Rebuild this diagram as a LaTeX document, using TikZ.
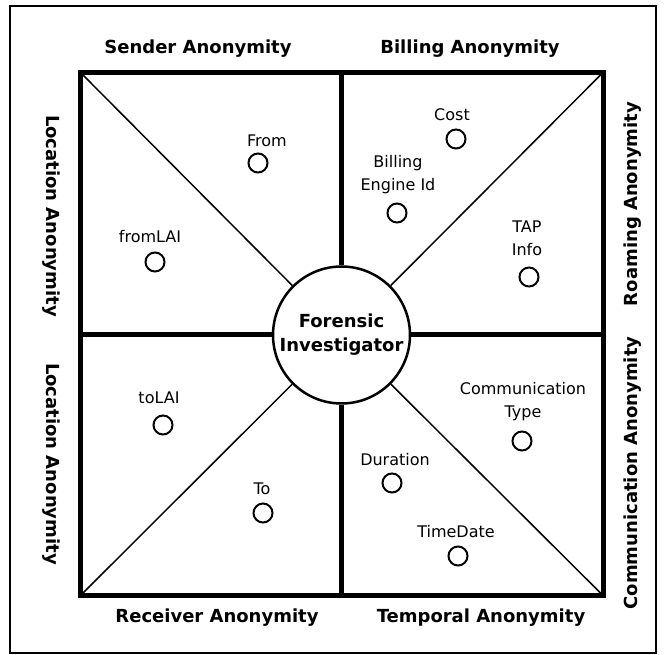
\documentclass[tikz,border=0pt]{standalone}
\usepackage{fontspec}
\setmainfont{DejaVu Sans}

\begin{document}
\begin{tikzpicture}[
        x=1pt, y=-1pt,
        side/.style={font=\fontsize{18}{20}\selectfont\bfseries, inner sep=0pt},
        item/.style={font=\fontsize{16}{23}\selectfont, align=center, inner sep=0pt},
        dot/.style={circle, draw, line width=2pt, minimum size=19pt, inner sep=0pt},
        hub/.style={circle, draw, fill=white, line width=2.5pt, minimum size=137pt,
                    inner sep=0pt, align=center,
                    font=\fontsize{18}{24}\selectfont\bfseries},
        wall/.style={line width=5pt},
        cut/.style={line width=1.5pt},
    ]
    \useasboundingbox (0,0) rectangle (665,655);
    \draw[line width=2pt] (10,6) rectangle (656,653);

    % corners of the square
    \coordinate (tl) at (80.5,72.5);
    \coordinate (tr) at (603,72.5);
    \coordinate (bl) at (80.5,595.5);
    \coordinate (br) at (603,595.5);
    \coordinate (tm) at (341.5,72.5);
    \coordinate (bm) at (341.5,595.5);
    \coordinate (lm) at (80.5,335);
    \coordinate (rm) at (603,335);

    \node[hub] (inv) at (341.5,335) {Forensic\\Investigator};

    \draw[wall, line join=miter] (tl) rectangle (br);
    \draw[wall] (tm) -- (inv.north);
    \draw[wall] (bm) -- (inv.south);
    \draw[wall] (lm) -- (inv.west);
    \draw[wall] (rm) -- (inv.east);
    \draw[cut] (tl) -- (inv);
    \draw[cut] (tr) -- (inv);
    \draw[cut] (bl) -- (inv);
    \draw[cut] (br) -- (inv);

    % outer labels
    \node[side] (sender)   at (198,49)  {Sender Anonymity};
    \node[side] (billing)  at (470,49)  {Billing Anonymity};
    \node[side] (receiver) at (217,618) {Receiver Anonymity};
    \node[side] (temporal) at (481,618) {Temporal Anonymity};
    \node[side, rotate=-90] (loctop) at (51.5,216) {Location Anonymity};
    \node[side, rotate=-90] (locbot) at (51.5,464) {Location Anonymity};
    \node[side, rotate=90] (roaming) at (633,204) {Roaming Anonymity};
    \node[side, rotate=90] (commun)  at (633,473) {Communication Anonymity};

    % fields
    \node[dot] (from) at (258,163) {};
    \node[item] (fromtxt) at (267,141) {From};
    \node[dot] (fromlai) at (155,262) {};
    \node[item] (fromlaitxt) at (150,237) {fromLAI};
    \node[dot] (cost) at (456,139) {};
    \node[item] (costtxt) at (452,115) {Cost};
    \node[dot] (engine) at (397,213) {};
    \node[item] (enginetxt) at (398,175) {Billing\\Engine Id};
    \node[dot] (tap) at (529,277) {};
    \node[item] (taptxt) at (527,238) {TAP\\Info};
    \node[dot] (tolai) at (163,425) {};
    \node[item] (tolaitxt) at (159,398) {toLAI};
    \node[dot] (to) at (263,513) {};
    \node[item] (totxt) at (262,489) {To};
    \node[dot] (ctype) at (522,441) {};
    \node[item] (ctypetxt) at (523,402) {Communication\\Type};
    \node[dot] (dur) at (392,483) {};
    \node[item] (durtxt) at (395,460) {Duration};
    \node[dot] (time) at (458,556) {};
    \node[item] (timetxt) at (456,532) {TimeDate};
\end{tikzpicture}
\end{document}
